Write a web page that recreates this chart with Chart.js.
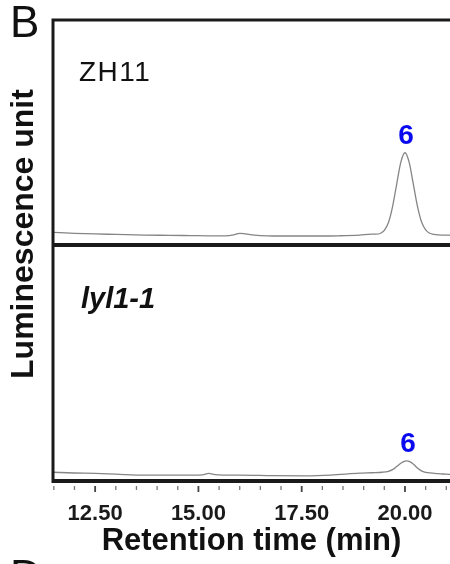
<!DOCTYPE html>
<html lang="en">
<head>
<meta charset="UTF-8">
<title>Retention time</title>
<style>
  body { margin: 0; background: #fff; }
  #wrap { position: relative; width: 450px; height: 564px; overflow: hidden; font-family: "Liberation Sans", Arial, sans-serif; color: #111; }
  #wrap canvas { position: absolute; left: 0; top: 0; }
  .lbl { position: absolute; line-height: 1; white-space: nowrap; }
  #panel-b { left: 10px; top: 0px; font-size: 44px; }
  #panel-d { left: 10px; top: 554px; font-size: 44px; }
  #top-name { left: 79px; top: 58px; font-size: 28px; letter-spacing: 1.5px; }
  #bot-name { left: 81px; top: 284px; font-size: 29px; font-weight: bold; font-style: italic; }
  #y-title { left: 22px; top: 234px; font-size: 32px; font-weight: bold; transform: translate(-50%, -50%) rotate(-90deg); }
</style>
</head>
<body>
<div id="wrap">
  <canvas id="chart" width="450" height="564"></canvas>
  <div class="lbl" id="panel-b">B</div>
  <div class="lbl" id="panel-d">D</div>
  <div class="lbl" id="top-name">ZH11</div>
  <div class="lbl" id="bot-name">lyl1-1</div>
  <div class="lbl" id="y-title">Luminescence unit</div>
</div>

<script src="https://cdn.jsdelivr.net/npm/chart.js"></script>
<script>
// ZH11 trace (top panel)
const topTimes  = [11.48, 12.0, 12.5, 13.0, 13.7, 14.3, 14.8, 15.3, 15.65, 15.85, 16.0, 16.1, 16.25, 16.5, 16.8, 17.4, 18.0, 18.4, 18.9, 19.2, 19.3, 19.4, 19.5, 19.6, 19.7, 19.8, 19.9, 20.0, 20.1, 20.2, 20.3, 20.4, 20.5, 20.6, 20.7, 20.8, 21.0, 21.09];
const topSignal = [5.6, 5.2, 4.9, 4.7, 4.4, 4.3, 4.2, 4.1, 4.1, 4.5, 5.2, 5.1, 4.6, 4.2, 4.0, 4.0, 4.0, 4.1, 4.4, 4.8, 4.8, 5.1, 6.5, 10.0, 17.1, 27.1, 36.8, 41.0, 36.8, 27.3, 17.4, 10.3, 6.7, 5.2, 4.7, 4.5, 4.4, 4.4];

// lyl1-1 trace (bottom panel)
const botTimes  = [11.48, 12.0, 12.5, 13.0, 13.7, 14.3, 14.8, 15.1, 15.25, 15.4, 15.6, 16.0, 16.8, 17.6, 18.2, 18.9, 19.2, 19.45, 19.6, 19.7, 19.8, 19.9, 20.0, 20.05, 20.1, 20.2, 20.3, 20.4, 20.5, 20.6, 20.8, 21.0, 21.09];
const botSignal = [3.7, 3.4, 3.2, 2.9, 2.5, 2.5, 2.5, 2.6, 3.2, 2.7, 2.5, 2.5, 2.3, 2.2, 2.5, 3.3, 3.5, 3.7, 4.1, 4.8, 6.1, 7.5, 8.4, 8.5, 8.3, 7.2, 5.5, 4.3, 3.7, 3.4, 3.1, 2.9, 2.8];

// peak labels
const peakTimes  = [20.0, 20.05];
const peakLabels = ['6', '6'];

const xMin = 11.48, xMax = 21.09;

function toPoints(times, vals) {
  return times.map((t, i) => ({x: t, y: vals[i]}));
}

function isMajor(v) {
  return Math.abs(v / 2.5 - Math.round(v / 2.5)) < 1e-6;
}

const framePlugin = {
  id: 'frame',
  afterDraw(chart) {
    const {ctx, chartArea, scales} = chart;
    const mid = scales.yTop.bottom;
    ctx.save();
    ctx.strokeStyle = '#1a1a1a';
    ctx.lineWidth = 3;
    ctx.beginPath();
    ctx.moveTo(chartArea.left, chartArea.top - 1.5);
    ctx.lineTo(chartArea.left, chartArea.bottom + 2);
    ctx.moveTo(chartArea.left, chartArea.top);
    ctx.lineTo(chartArea.right + 5, chartArea.top);
    ctx.stroke();
    ctx.lineWidth = 4;
    ctx.beginPath();
    ctx.moveTo(chartArea.left, mid);
    ctx.lineTo(chartArea.right + 5, mid);
    ctx.moveTo(chartArea.left, chartArea.bottom);
    ctx.lineTo(chartArea.right + 5, chartArea.bottom);
    ctx.stroke();

    // tick marks under the axis, detached from the frame
    const x = scales.x;
    x.ticks.forEach(tk => {
      const px = x.getPixelForValue(tk.value);
      const major = isMajor(tk.value);
      ctx.strokeStyle = major ? '#444' : '#777';
      ctx.lineWidth = major ? 1.8 : 1.3;
      ctx.beginPath();
      ctx.moveTo(px, chartArea.bottom + 5);
      ctx.lineTo(px, chartArea.bottom + (major ? 11 : 9));
      ctx.stroke();
    });

    // blue peak numbers
    ctx.fillStyle = '#0a0af0';
    ctx.font = 'bold 28px "Liberation Sans", Arial, sans-serif';
    ctx.textAlign = 'center';
    ctx.textBaseline = 'alphabetic';
    chart.data.datasets.forEach((ds, i) => {
      const yScale = scales[ds.yAxisID];
      const pt = ds.data.find(p => Math.abs(p.x - peakTimes[i]) < 1e-6);
      ctx.fillText(peakLabels[i], x.getPixelForValue(pt.x) + 1, yScale.getPixelForValue(pt.y) - 9);
    });
    ctx.restore();
  }
};

Chart.defaults.font.family = '"Liberation Sans", Arial, sans-serif';

new Chart(document.getElementById('chart'), {
  type: 'line',
  data: {
    datasets: [
      {
        label: 'ZH11',
        data: toPoints(topTimes, topSignal),
        yAxisID: 'yTop',
        borderColor: '#858585',
        borderWidth: 1.3,
        pointRadius: 0,
        cubicInterpolationMode: 'monotone'
      },
      {
        label: 'lyl1-1',
        data: toPoints(botTimes, botSignal),
        yAxisID: 'yBot',
        borderColor: '#858585',
        borderWidth: 1.3,
        pointRadius: 0,
        cubicInterpolationMode: 'monotone'
      }
    ]
  },
  options: {
    responsive: false,
    animation: false,
    layout: { padding: { left: 53, top: 20, right: 0, bottom: 0 } },
    plugins: { legend: { display: false }, tooltip: { enabled: false } },
    scales: {
      x: {
        type: 'linear',
        min: xMin,
        max: xMax,
        grid: { display: false },
        border: { display: false },
        ticks: {
          stepSize: 0.5,
          includeBounds: false,
          autoSkip: false,
          maxRotation: 0,
          padding: 12,
          color: '#1a1a1a',
          font: { size: 22, weight: 'bold' },
          callback: v => isMajor(v) ? v.toFixed(2) : ''
        },
        title: {
          display: true,
          text: 'Retention time (min)',
          color: '#111',
          font: { size: 31, weight: 'bold' },
          padding: { top: 0, bottom: 4 }
        },
        afterFit: s => {
          s.height = 83;
          s.paddingLeft = 0;
          s.paddingRight = 0;
        }
      },
      yTop: {
        type: 'linear',
        display: false,
        position: 'left',
        stack: 'panels',
        stackWeight: 225,
        weight: 2,
        min: 0,
        max: 100
      },
      yBot: {
        type: 'linear',
        display: false,
        position: 'left',
        stack: 'panels',
        stackWeight: 236,
        weight: 1,
        min: 0,
        max: 100
      }
    }
  },
  plugins: [framePlugin]
});
</script>
</body>
</html>
